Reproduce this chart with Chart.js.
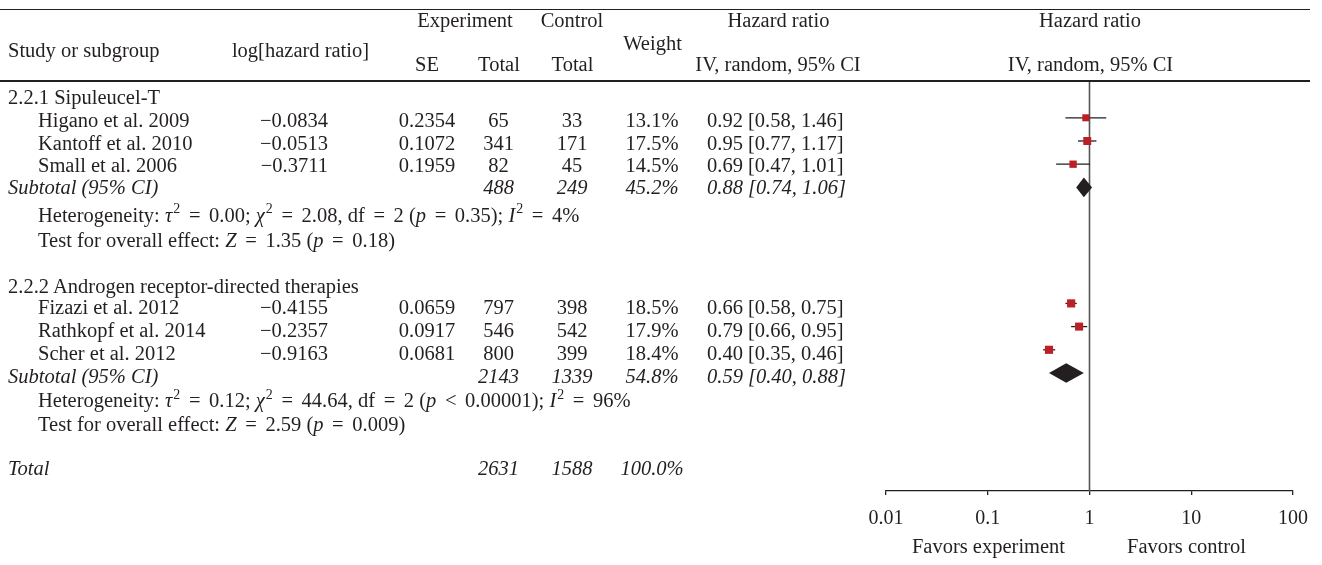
<!DOCTYPE html>
<html><head><meta charset="utf-8">
<script src="https://cdn.jsdelivr.net/npm/chart.js@4/dist/chart.umd.min.js"></script>
<style>
html,body{margin:0;padding:0;background:#fff;}
#wrap{position:relative;width:1322px;height:565px;overflow:hidden;font-family:"Liberation Serif","Times New Roman",serif;color:#231f20;}
canvas{position:absolute;left:0;top:0;}
.t{position:absolute;white-space:nowrap;font-size:20.5px;line-height:20.5px;}
.c{transform:translateX(-50%);} .r{transform:translateX(-100%);}
.i{font-style:italic;}
.eq{margin:0 3.5px;}
.rule{position:absolute;left:0;width:1310px;height:1.5px;background:#231f20;}
sup{font-size:0.68em;vertical-align:baseline;position:relative;top:-0.6em;line-height:0;margin-left:1px;}
</style></head>
<body><div id="wrap"><canvas id="c" width="1322" height="565"></canvas><div id="txt"></div>
<div class="rule" style="top:8.5px"></div><div class="rule" style="top:80px"></div></div>
<script>
// ---------- data ----------
const groups = ["2.2.1 Sipuleucel-T", "2.2.2 Androgen receptor-directed therapies"];
const studies = ["Higano et al. 2009", "Kantoff et al. 2010", "Small et al. 2006",
                 "Fizazi et al. 2012", "Rathkopf et al. 2014", "Scher et al. 2012"];
const studyGroup = [0, 0, 0, 1, 1, 1];
const logHR = [-0.0834, -0.0513, -0.3711, -0.4155, -0.2357, -0.9163];
const se = [0.2354, 0.1072, 0.1959, 0.0659, 0.0917, 0.0681];
const expTotal = [65, 341, 82, 797, 546, 800];
const ctlTotal = [33, 171, 45, 398, 542, 399];
const weight = [13.1, 17.5, 14.5, 18.5, 17.9, 18.4];
const hr = [0.92, 0.95, 0.69, 0.66, 0.79, 0.40];
const ciLow = [0.58, 0.77, 0.47, 0.58, 0.66, 0.35];
const ciHigh = [1.46, 1.17, 1.01, 0.75, 0.95, 0.46];
const subExp = [488, 2143];
const subCtl = [249, 1339];
const subWeight = [45.2, 54.8];
const subHR = [0.88, 0.59];
const subLow = [0.74, 0.40];
const subHigh = [1.06, 0.88];
const hetTau2 = ["0.00", "0.12"];
const hetChi2 = ["2.08", "44.64"];
const hetDf = [2, 2];
const hetPrel = ["=", "<"];
const hetP = ["0.35", "0.00001"];
const hetI2 = ["4%", "96%"];
const effZ = ["1.35", "2.59"];
const effP = ["0.18", "0.009"];
const totalExp = 2631, totalCtl = 1588, totalWeight = 100.0;
const tickVals = [0.01, 0.1, 1, 10, 100];
const tickLabels = ["0.01", "0.1", "1", "10", "100"];

// ---------- layout ----------
const INK = '#231f20', RED = '#bb2026';
const FS = 20.5, ASC = 0.8375 * FS;
const rowBaseline = [104, 127.5, 150, 172.5, 194.5, 221.7, 246.7, null, 293.3, 314.3, 336.7, 360, 383.3, 407.3, 431, null, 475];
const COL = {group: 8, name: 38, logHR: 328, se: 427, exp: 498.5, ctl: 572, weight: 652, hr: 707};
function studyRow(i) { const g = studyGroup[i]; return g * 8 + 1 + studyGroup.slice(0, i).filter(v => v === g).length; }
const txt = document.getElementById('txt');
function put(html, x, base, align, italic) {
  const s = document.createElement('span');
  s.className = 't' + (align === 'c' ? ' c' : align === 'r' ? ' r' : '') + (italic ? ' i' : '');
  s.style.left = x + 'px'; s.style.top = (base - ASC) + 'px'; s.innerHTML = html;
  txt.appendChild(s);
}
const f2 = v => v.toFixed(2);
const ciText = (h, l, u) => f2(h) + ' [' + f2(l) + ', ' + f2(u) + ']';
const rel = r => '<span class="eq">' + (r === '<' ? '&lt;' : r) + '</span>';

// header
put('Study or subgroup', 8, 57);
put('log[hazard ratio]', 300.5, 57, 'c');
put('Experiment', 465, 27, 'c');
put('Control', 572, 27, 'c');
put('Weight', 652.5, 50, 'c');
put('Hazard ratio', 778.5, 27, 'c');
put('SE', 427, 71, 'c');
put('Total', 499, 71, 'c');
put('Total', 572.5, 71, 'c');
put('IV, random, 95% CI', 778, 71, 'c');
put('Hazard ratio', 1090, 27, 'c');
put('IV, random, 95% CI', 1090.5, 71, 'c');

// body
groups.forEach((g, gi) => {
  const base = gi * 8;
  put(g, COL.group, rowBaseline[base]);
  studies.forEach((s, i) => {
    if (studyGroup[i] !== gi) return;
    const b = rowBaseline[studyRow(i)];
    put(s, COL.name, b);
    put((logHR[i] < 0 ? '\u2212' : '') + Math.abs(logHR[i]).toFixed(4), COL.logHR, b, 'r');
    put(se[i].toFixed(4), COL.se, b, 'c');
    put(String(expTotal[i]), COL.exp, b, 'c');
    put(String(ctlTotal[i]), COL.ctl, b, 'c');
    put(weight[i].toFixed(1) + '%', COL.weight, b, 'c');
    put(ciText(hr[i], ciLow[i], ciHigh[i]), COL.hr, b);
  });
  const sb = rowBaseline[base + 4];
  put('Subtotal (95% CI)', COL.group, sb, null, true);
  put(String(subExp[gi]), COL.exp, sb, 'c', true);
  put(String(subCtl[gi]), COL.ctl, sb, 'c', true);
  put(subWeight[gi].toFixed(1) + '%', COL.weight, sb, 'c', true);
  put(ciText(subHR[gi], subLow[gi], subHigh[gi]), COL.hr, sb, null, true);
  put('Heterogeneity: <i>\u03c4</i><sup>2</sup> ' + rel('=') + ' ' + hetTau2[gi] + '; <i>\u03c7</i><sup>2</sup> ' + rel('=') + ' ' + hetChi2[gi] +
      ', df ' + rel('=') + ' ' + hetDf[gi] + ' (<i>p</i> ' + rel(hetPrel[gi]) + ' ' + hetP[gi] + '); <i>I</i><sup>2</sup> ' + rel('=') + ' ' + hetI2[gi],
      COL.name, rowBaseline[base + 5]);
  put('Test for overall effect: <i>Z</i> ' + rel('=') + ' ' + effZ[gi] + ' (<i>p</i> ' + rel('=') + ' ' + effP[gi] + ')', COL.name, rowBaseline[base + 6]);
});
put('Total', COL.group, rowBaseline[16], null, true);
put(String(totalExp), COL.exp, rowBaseline[16], 'c', true);
put(String(totalCtl), COL.ctl, rowBaseline[16], 'c', true);
put(totalWeight.toFixed(1) + '%', COL.weight, rowBaseline[16], 'c', true);
put('Favors experiment', 988.5, 553, 'c');
put('Favors control', 1186.5, 553, 'c');

// ---------- chart ----------
const forest = {
  id: 'forest',
  beforeDatasetsDraw(chart) {
    const {ctx, scales: {x, y}, chartArea: a} = chart;
    ctx.save();
    const x1 = x.getPixelForValue(1);
    ctx.strokeStyle = '#555'; ctx.lineWidth = 1.6;
    ctx.beginPath(); ctx.moveTo(x1, a.top); ctx.lineTo(x1, a.bottom); ctx.stroke();
    ctx.strokeStyle = INK; ctx.lineWidth = 1.3;
    studies.forEach((s, i) => {
      const py = y.getPixelForValue(studyRow(i));
      ctx.beginPath();
      ctx.moveTo(x.getPixelForValue(ciLow[i]), py);
      ctx.lineTo(x.getPixelForValue(ciHigh[i]), py);
      ctx.stroke();
    });
    ctx.restore();
  },
  afterDatasetsDraw(chart) {
    const {ctx, scales: {x, y}} = chart;
    ctx.save();
    ctx.fillStyle = INK;
    subHR.forEach((v, g) => {
      const py = y.getPixelForValue(g * 8 + 4), h = 9.8;
      ctx.beginPath();
      ctx.moveTo(x.getPixelForValue(subLow[g]), py);
      ctx.lineTo(x.getPixelForValue(v), py - h);
      ctx.lineTo(x.getPixelForValue(subHigh[g]), py);
      ctx.lineTo(x.getPixelForValue(v), py + h);
      ctx.closePath(); ctx.fill();
    });
    ctx.restore();
  }
};

new Chart(document.getElementById('c'), {
  type: 'scatter',
  data: {
    datasets: [{
      data: studies.map((s, i) => ({x: hr[i], y: studyRow(i)})),
      pointStyle: 'rect',
      pointRadius: c => 3 + 0.15 * weight[c.dataIndex],
      backgroundColor: RED,
      borderWidth: 0
    }]
  },
  options: {
    responsive: false,
    animation: false,
    events: [],
    layout: {padding: {left: 886, right: 29, top: 81, bottom: 0}},
    plugins: {legend: {display: false}, tooltip: {enabled: false}},
    scales: {
      x: {
        type: 'logarithmic', position: 'bottom', min: 0.01, max: 100,
        afterBuildTicks: s => { s.ticks = tickVals.map(v => ({value: v})); },
        afterFit: s => { s.height = 74; },
        ticks: {callback: (v, i) => tickLabels[i], autoSkip: false, maxRotation: 0,
                font: {family: 'Liberation Serif', size: 20}, color: INK, padding: 12},
        grid: {drawOnChartArea: false, drawTicks: true, tickLength: 4, color: INK, lineWidth: 1.3},
        border: {display: true, color: INK, width: 1.3}
      },
      y: {type: 'linear', display: false, reverse: true, min: -0.586, max: 17.086}
    }
  },
  plugins: [forest]
});
</script>
</body></html>
